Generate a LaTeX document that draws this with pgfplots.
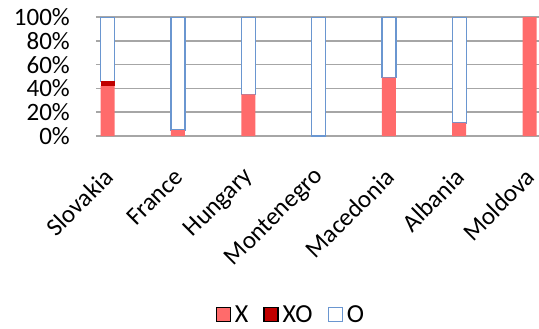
\documentclass[border=0pt]{standalone}
\usepackage{pgfplots}
\pgfplotsset{compat=1.18}
\usepackage{fontspec}
\setmainfont{Carlito}
\definecolor{cX}{HTML}{FF6B6B}
\definecolor{cXO}{HTML}{C00000}
\definecolor{cO}{HTML}{6A96D0}
\definecolor{grd}{HTML}{A6A6A6}
\pgfplotsset{sqlegend/.style={legend image code/.code={\draw[##1,line width=1.3pt] (0pt,-7pt) rectangle (14pt,7pt);}}}
\begin{document}
\begin{tikzpicture}[font=\fontsize{25}{28}\selectfont]
\useasboundingbox (-96pt,-193pt) rectangle (443pt,136pt);
\begin{axis}[
 at={(0,0)}, anchor=south west,
 scale only axis, width=443pt, height=119pt,
 xmin=-0.166, xmax=6.135, ymin=0, ymax=100,
 ybar stacked, bar width=14pt,
 xtick={0,...,6}, xticklabels={Slovakia,France,Hungary,Montenegro,Macedonia,Albania,Moldova},
 xtick style={draw=none}, ytick style={draw=none},
 ytick={0,20,...,100}, yticklabels={0\%,20\%,40\%,60\%,80\%,100\%},
 ymajorgrids, major grid style={grd, line width=1.5pt},
 axis line style={draw=none},
 yticklabel style={anchor=east, inner sep=0pt, xshift=-26pt},
 xticklabel style={font=\fontsize{25}{28}\selectfont, xshift=1pt, yshift=-37pt, rotate=45, anchor=east, inner sep=0pt},
 legend style={at={(axis description cs:0.442,-1.50)}, anchor=center, draw=none, fill=none,
   legend columns=3, nodes={inner xsep=4pt}, /tikz/every even column/.append style={column sep=11pt}, font=\fontsize{26}{28}\selectfont},
]
\addplot[fill=cX, draw=none, sqlegend] coordinates {(0,42) (1,5) (2,35) (3,0) (4,49) (5,11) (6,100)};
\addplot[fill=cXO, draw=none, sqlegend] coordinates {(0,4) (1,0) (2,0) (3,0) (4,0) (5,0) (6,0)};
\addplot[fill=white, draw=cO, line width=1.3pt, sqlegend] coordinates {(0,54) (1,95) (2,65) (3,100) (4,51) (5,89)};
\legend{X,XO,O}
\end{axis}
\end{tikzpicture}
\end{document}
